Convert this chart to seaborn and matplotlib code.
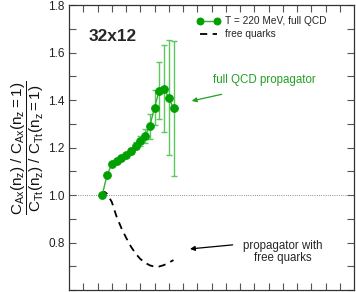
import seaborn as sns
import matplotlib.pyplot as plt
import numpy as np
from matplotlib.ticker import MultipleLocator

sns.set_theme(style="ticks")
plt.rcParams['font.family'] = ['Liberation Sans', 'DejaVu Sans']
plt.rcParams['mathtext.fontset'] = 'custom'
plt.rcParams['mathtext.rm'] = 'Liberation Sans'
plt.rcParams['mathtext.it'] = 'Liberation Sans'

# full QCD, T = 220 MeV
nz = np.arange(1, 17)
ratio = [1.000, 1.083, 1.130, 1.145, 1.155, 1.168, 1.186, 1.208,
         1.228, 1.249, 1.289, 1.368, 1.440, 1.448, 1.409, 1.365]
err = [0.000, 0.003, 0.004, 0.005, 0.006, 0.008, 0.012, 0.015,
       0.020, 0.028, 0.053, 0.075, 0.120, 0.183, 0.242, 0.285]

# free quarks
nz_free = [1, 1.5, 2, 3, 4, 5, 6, 7, 8, 9, 10, 11, 12, 13, 14, 15, 16]
ratio_free = [1.000, 1.013, 1.005, 0.971, 0.910, 0.862, 0.821, 0.784, 0.754,
              0.731, 0.715, 0.704, 0.698, 0.699, 0.705, 0.715, 0.726]

green = '#00a000'
fig = plt.figure(figsize=(3.56, 2.92), dpi=100)
ax = fig.add_axes([69 / 356, 2 / 292, 285 / 356, 285 / 292])

ax.axhline(1.0, color='#666666', lw=0.6, ls=':', zorder=1)

sns.lineplot(x=nz_free, y=ratio_free, ax=ax, color='black', lw=1.3,
             linestyle=(0, (4, 3)), zorder=2, label='free quarks')
ax.errorbar(nz, ratio, yerr=err, fmt='none', ecolor='#5cc85c', elinewidth=1,
            capsize=2.5, capthick=1, zorder=3)
sns.lineplot(x=nz, y=ratio, ax=ax, color='#33b033', lw=1, marker='o',
             markersize=5.5, markerfacecolor=green, markeredgecolor=green,
             zorder=4, label='T = 220 MeV, full QCD')

ax.set_xlim(-6, 54)
ax.set_ylim(0.6, 1.8)
ax.set_xticks(np.arange(-3, 54, 3))
ax.set_yticks([0.8, 1.0, 1.2, 1.4, 1.6, 1.8])
ax.yaxis.set_minor_locator(MultipleLocator(0.1))
ax.tick_params(which='both', direction='in', top=True, right=True,
               labelbottom=False, length=5, width=0.8, color='#555555',
               labelsize=8.5, labelcolor='#222222', pad=3)
for s in ax.spines.values():
    s.set_color('#333333')
    s.set_linewidth(0.9)

ax.set_ylabel(r'$\dfrac{\mathrm{C_{Ax}(n_z)\ /\ C_{Ax}(n_z{=}1)}}'
              r'{\mathrm{C_{Tt}(n_z)\ /\ C_{Tt}(n_z{=}1)}}$',
              fontsize=11, labelpad=2, color='#111111')

h, l = ax.get_legend_handles_labels()
ax.legend(h[::-1], l[::-1], loc='upper left', bbox_to_anchor=(0.435, 0.975),
          frameon=False, fontsize=7.3, handlelength=2.3, handletextpad=0.5,
          labelspacing=0.3, borderaxespad=0, numpoints=2, markerscale=0.9)

ax.text(0.07, 0.891, '32x12', transform=ax.transAxes, fontsize=12.4,
        fontweight='bold', ha='left', va='center')
ax.text(35.05, 1.484, 'full QCD propagator', color='#22a022', fontsize=8.3,
        ha='center', va='center')
ax.annotate('', xy=(19.83, 1.396), xytext=(26.15, 1.424),
            arrowprops=dict(arrowstyle='-|>', color='#22a022', lw=0.9,
                            mutation_scale=7, shrinkA=0, shrinkB=0))
ax.text(38.99, 0.76, 'propagator with\nfree quarks', fontsize=8.3,
        ha='center', va='center', multialignment='center', linespacing=0.95)
ax.annotate('', xy=(19.47, 0.773), xytext=(28.46, 0.79),
            arrowprops=dict(arrowstyle='-|>', color='black', lw=0.9,
                            mutation_scale=7, shrinkA=0, shrinkB=0))

fig.savefig('out.png', dpi=100)
